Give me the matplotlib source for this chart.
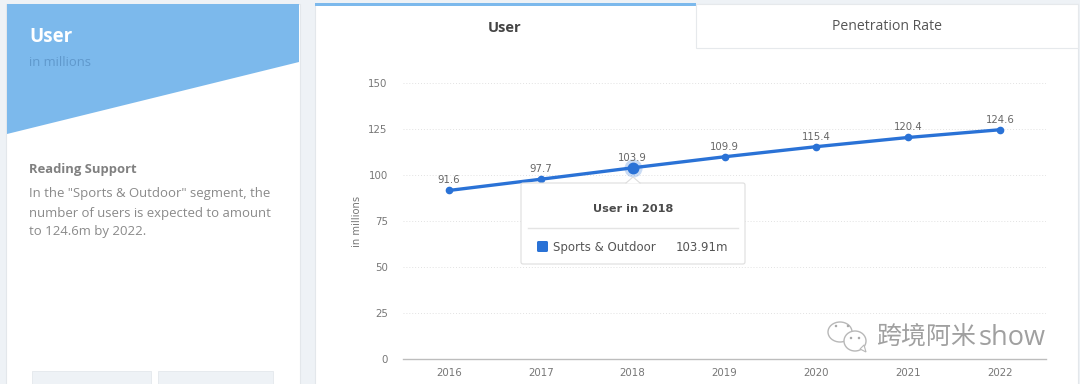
import matplotlib
matplotlib.use("Agg")
import matplotlib.pyplot as plt
from matplotlib.patches import Rectangle, Polygon, FancyBboxPatch, Ellipse

years = [2016, 2017, 2018, 2019, 2020, 2021, 2022]
users = [91.6, 97.7, 103.9, 109.9, 115.4, 120.4, 124.6]
y_ticks = [0, 25, 50, 75, 100, 125, 150]
highlight_year = 2018
tooltip_title = "User in 2018"
tooltip_series = "Sports & Outdoor"
tooltip_value = "103.91m"
body_lines = ['In the "Sports & Outdoor" segment, the',
              'number of users is expected to amount',
              'to 124.6m by 2022.']

W, H = 1080, 384
plt.rcParams['font.family'] = ['Open Sans', 'DejaVu Sans']
fig = plt.figure(figsize=(W/100, H/100), dpi=100, facecolor='#eef2f6')

# page layer in pixel coordinates (origin top-left)
bg = fig.add_axes([0, 0, 1, 1], zorder=0)
bg.set_xlim(0, W); bg.set_ylim(H, 0); bg.axis('off')

# left card
bg.add_patch(Rectangle((6, 3.5), 294, 381, fc='white', ec='#e3e7eb', lw=0.8))
bg.add_patch(Polygon([(7, 4), (299, 4), (299, 62), (7, 134)], fc='#7cb9ec', ec='none'))
bg.text(29, 37, 'User', fontsize=13.5, fontweight='bold', color='white', va='center')
bg.text(29, 62, 'in millions', fontsize=9.4, color='#5f98cc', va='center')
bg.text(29, 169, 'Reading Support', fontsize=9.4, fontweight='bold', color='#808080', va='center')
for yy, s in zip([193, 213, 232], body_lines):
    bg.text(29, yy, s, fontsize=9.42, color='#8a8a8a', va='center')
bg.add_patch(Rectangle((32, 371), 119, 14, fc='#eef2f6', ec='#e4e8ec', lw=0.6))
bg.add_patch(Rectangle((158, 371), 115, 14, fc='#eef2f6', ec='#e4e8ec', lw=0.6))

# right card and tabs
bg.add_patch(Rectangle((315, 4), 763, 381, fc='white', ec='#e3e7eb', lw=0.8))
bg.add_patch(Rectangle((315, 3), 381, 3, fc='#7cb9ec', ec='none'))
bg.add_patch(Rectangle((696, 4), 382, 44, fc='white', ec='#e6e9ec', lw=0.8))
bg.text(505, 28, 'User', fontsize=10.5, fontweight='bold', color='#444444', ha='center', va='center')
bg.text(887, 26.5, 'Penetration Rate', fontsize=10.1, color='#555555', ha='center', va='center')

# chart
ax = fig.add_axes([403/W, 1-359/H, (1046-403)/W, (359-83)/H], zorder=1)
ax.patch.set_alpha(0)
ax.set_xlim(years[0]-0.5, years[-1]+0.5)
ax.set_ylim(0, 150)
ax.set_xticks(years)
ax.set_yticks(y_ticks)
for lab in ax.get_xticklabels() + ax.get_yticklabels():
    lab.set_family('DejaVu Sans')
ax.tick_params(length=0, labelsize=7.4, labelcolor='#777777')
ax.tick_params(axis='y', pad=11)
ax.tick_params(axis='x', pad=6.5)
ax.grid(axis='y', color='#e2e2e2', lw=0.7, ls=(0, (1, 2)))
ax.grid(axis='x', visible=False)
ax.set_axisbelow(True)
for k in ['top', 'right', 'left']:
    ax.spines[k].set_visible(False)
ax.spines['bottom'].set_color('#bdbdbd')
ax.spines['bottom'].set_linewidth(1)
ax.set_ylabel('in millions', fontsize=7.2, color='#777777', family='DejaVu Sans')
ax.yaxis.set_label_coords((362-403)/(1046-403), 0.5)

ax.plot(years, users, color='#2a72d6', lw=2.4, marker='o', ms=4.5, zorder=3, solid_capstyle='round')
hv = users[years.index(highlight_year)]
ax.plot([highlight_year], [hv], 'o', ms=13, color='#2a72d6', alpha=0.25, mec='none', zorder=4)
ax.plot([highlight_year], [hv], 'o', ms=7.5, color='#2a72d6', zorder=5)
for x, v in zip(years, users):
    ax.annotate(f'{v}', (x, v), xytext=(0, 3.6), textcoords='offset points',
                ha='center', va='bottom', fontsize=7.3, color='#666666', zorder=6, family='DejaVu Sans')

# tooltip
top = fig.add_axes([0, 0, 1, 1], zorder=2)
top.set_xlim(0, W); top.set_ylim(H, 0); top.axis('off')
top.add_patch(FancyBboxPatch((521, 183), 224, 81, boxstyle='round,pad=0,rounding_size=2',
                             fc='white', ec='#dddddd', lw=0.8))
top.add_patch(Polygon([(626, 183.5), (633, 177), (640, 183.5)], fc='white', ec='none'))
top.plot([626, 633, 640], [183, 177, 183], color='#dddddd', lw=0.8)
top.text(633, 209.5, tooltip_title, fontsize=8.1, fontweight='bold', color='#4a4a4a', ha='center', va='center',
         family='DejaVu Sans')
top.plot([528, 738], [228, 228], color='#e4e4e4', lw=1)
top.add_patch(FancyBboxPatch((537, 241), 11, 11, boxstyle='round,pad=0,rounding_size=1.5', fc='#2a72d6', ec='none'))
top.text(553, 247.5, tooltip_series, fontsize=8.5, color='#555555', va='center', family='DejaVu Sans')
top.text(728, 247.5, tooltip_value, fontsize=8.5, color='#555555', va='center', ha='right', family='DejaVu Sans')

# watermark
for (cx, cy, rx, ry) in [(840, 332, 12, 10), (855, 341, 11, 10)]:
    top.add_patch(Ellipse((cx, cy), 2*rx, 2*ry, fc='white', ec='#b8b8b8', lw=1))
top.add_patch(Polygon([(860, 349), (866, 352), (864, 345)], fc='white', ec='#b8b8b8', lw=0.8))
for (dx, dy) in [(836, 326), (848, 326), (851, 338), (859, 338)]:
    top.add_patch(Ellipse((dx, dy), 2.5, 2.5, fc='#a8a8a8', ec='none'))
top.text(876, 338, '跨境阿米', fontsize=18, color='#a0a0a0', va='center',
         family=['Noto Sans CJK SC', 'DejaVu Sans'])
top.text(1046, 338, 'show', fontsize=19.5, color='#a0a0a0', va='center', ha='right', family='Open Sans')

fig.savefig('out.png', dpi=100, facecolor=fig.get_facecolor())
